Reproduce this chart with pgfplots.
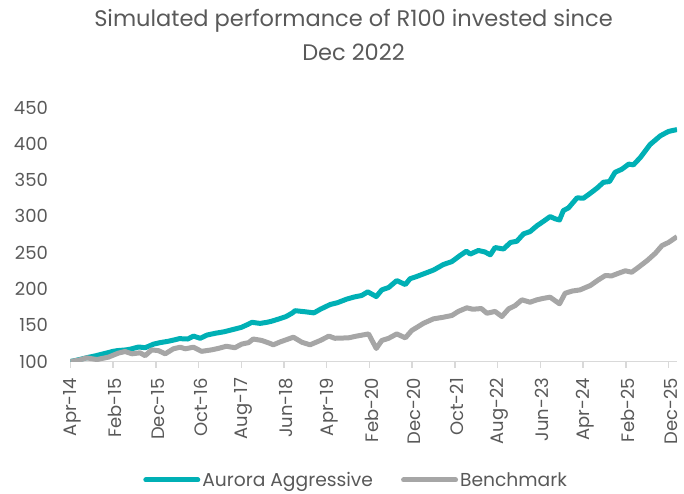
\documentclass[border=0pt]{standalone}
\usepackage{pgfplots}
\pgfplotsset{compat=1.18}
\usepackage{fontspec}
\setmainfont{Poppins}
\definecolor{teal1}{RGB}{0,176,181}
\definecolor{grayl}{RGB}{166,166,166}
\definecolor{txt}{RGB}{89,89,89}
\definecolor{axl}{RGB}{217,217,217}
\begin{document}
\begin{tikzpicture}[x=1pt,y=1pt]
\path[use as bounding box] (0,0) rectangle (684,493);
\node[text=txt, font=\fontsize{22.5}{30}\selectfont, anchor=base] at (353.5,466.3) {Simulated performance of R100 invested since};
\node[text=txt, font=\fontsize{22.5}{30}\selectfont, anchor=base] at (353.5,432) {Dec 2022};
\begin{axis}[
  at={(70.4pt,131.5pt)}, anchor=south west,
  scale only axis, width=606.6pt, height=254pt,
  xmin=0, xmax=142, ymin=100, ymax=450,
  axis x line*=bottom, axis y line*=left,
  x axis line style={draw=axl, line width=1.5pt},
  y axis line style={draw=none},
  ytick={100,150,...,450},
  ytick style={draw=none},
  xtick={0,10,...,140},
  xticklabels={Apr-14,Feb-15,Dec-15,Oct-16,Aug-17,Jun-18,Apr-19,Feb-20,Dec-20,Oct-21,Aug-22,Jun-23,Apr-24,Feb-25,Dec-25},
  xtick style={draw=axl, line width=1.5pt},
  tick align=outside, major tick length=6pt,
  xticklabel shift=7pt,
  xticklabel style={xshift=2pt, rotate=90, anchor=east, text=txt, font=\fontsize{18}{21}\selectfont},
  yticklabel style={xshift=-13pt, text=txt, font=\fontsize{18}{21}\selectfont},
  /pgf/number format/assume math mode=true,
  legend columns=2,
  legend style={at={(0.471,-0.4665)}, anchor=center, draw=none, fill=none,
    font=\fontsize{18.7}{21}\selectfont, text=txt,
    /tikz/every even column/.append style={column sep=26pt}},
  legend image code/.code={\draw[#1, line cap=round] (2.5pt,0pt) -- (54.5pt,0pt);},
]
\addplot[teal1, line width=5pt, line join=round] coordinates {
(0,100) (2,102.5) (4,105.5) (6,108) (8,111) (10,114) (11,115) (13,116) (14,117) (16,120) (17.5,119) (19.5,124) (21,126) (23,128) (24.5,130) (25.5,131.5) (27.5,131) (28.8,135) (30.4,132) (32,136.5) (34,139) (36,141) (38,144) (40,147) (41.5,151) (42.5,154) (44.4,152.5) (46,154) (47.1,155.5) (49,159) (50.5,162) (52,167) (52.6,170) (55,168.5) (57,167) (58.5,172) (60.8,178.5) (62.5,181) (64.7,186) (66.5,189) (68.2,191) (69.6,196) (71.6,189.5) (72.9,198.7) (74.5,202) (76.4,211.5) (78.4,206) (79.5,214) (81,217) (82.7,220.8) (85,226) (87.3,233.6) (89.3,237.7) (91.2,246) (92.7,252) (93.6,248) (95.5,253) (97,251) (98.3,247) (99.4,257) (101.4,255) (103,264) (104.5,265.7) (106.1,276) (107.6,279) (109.2,287) (110.7,293) (112.3,299.7) (113.5,296.6) (114.5,295) (115.4,308) (116.6,311.7) (118.6,325.5) (120.1,325) (121.7,331.8) (123.3,339) (124.8,347) (126.2,348) (127.5,360.7) (129.1,365) (130.7,372) (131.8,371) (133.4,381) (135.7,399) (138.1,411) (140,417) (142,419.6)
};
\addlegendentry{Aurora Aggressive}
\addplot[grayl, line width=5pt, line join=round] coordinates {
(0,100) (2,102) (3.8,105) (6.2,102.7) (8.9,106) (11.2,111.5) (12.8,113.8) (14.4,110.6) (16.3,112) (17.5,108) (19,116) (20.6,115) (22.2,110.6) (24.1,117.5) (25.7,119.7) (26.9,117.5) (28.8,119.7) (30.7,114) (33,116) (34.6,118) (36.5,121) (38.5,119) (40.1,124) (41.7,126) (42.8,131) (44.8,129) (46.7,125) (47.5,123) (49.1,127) (52.2,133.5) (54.2,126.5) (56.1,123) (58.5,129) (60.5,135) (61.9,132) (65.1,132.6) (67,135) (69.8,138) (71.6,118) (72.9,129) (74.5,132) (76.4,138) (78.4,132.6) (79.9,142.7) (82.7,152.8) (85,158.8) (87.3,161) (89.3,163.4) (90.8,169) (92.8,174) (94.2,172) (96.2,173) (97.5,166.5) (99.4,169) (101,162) (102.6,172.6) (104.1,177) (105.7,185) (107.6,181.7) (109.2,185) (110.7,187) (112.3,188.6) (114.5,179.5) (115.8,194) (117.4,197) (119.3,198.7) (121.7,204.7) (123.6,212.5) (125.2,218.4) (126.7,218) (128.3,221.6) (129.9,225) (131.4,223) (133,230) (135,239) (136.9,249) (138.5,259.8) (140,264) (142,272)
};
\addlegendentry{Benchmark}
\end{axis}
\end{tikzpicture}
\end{document}
